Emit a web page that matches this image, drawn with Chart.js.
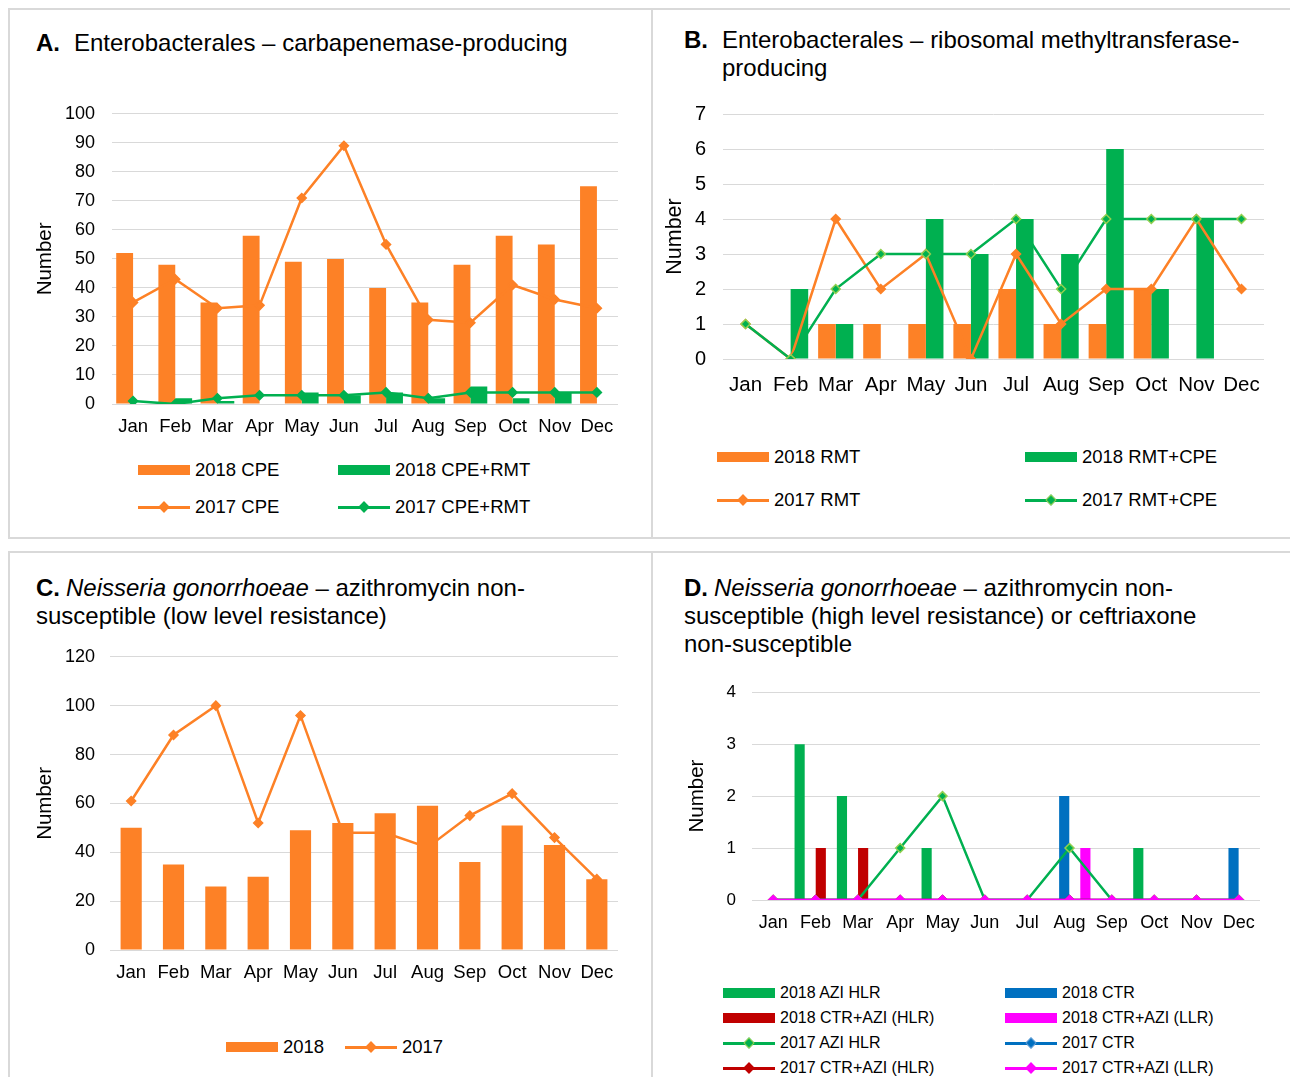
<!DOCTYPE html>
<html>
<head>
<meta charset="utf-8">
<script src="https://cdn.jsdelivr.net/npm/chart.js@4.4.1/dist/chart.umd.min.js"></script>
<style>
body { margin: 0; width: 1290px; height: 1077px; overflow: hidden; background: #fff; position: relative;
       font-family: "Liberation Sans", Arial, sans-serif; color: #000; }
.panel { position: absolute; border: 2px solid #d9d9d9; box-sizing: border-box; }
.title { position: absolute; font-size: 24px; line-height: 28px; white-space: nowrap; }
.title b { margin-right: 6px; }
.cv { position: absolute; }
.item { position: absolute; display: flex; align-items: center; height: 24px; white-space: nowrap; }
.sw { position: relative; width: 52px; height: 12px; margin-right: 5px; flex: none; }
.sw .bar { position: absolute; left: 0; top: 1px; width: 52px; height: 10px; }
.sw .ln { position: absolute; left: 0; top: 5px; width: 52px; height: 2.5px; }
.sw .dm { position: absolute; left: 22px; top: 2px; width: 6px; height: 6px; transform: rotate(45deg); border: 1.5px solid; }
</style>
</head>
<body>

<div class="panel" style="left:8px;top:8px;width:645px;height:531px"></div>
<div class="panel" style="left:651px;top:8px;width:650px;height:531px"></div>
<div class="panel" style="left:8px;top:551px;width:645px;height:540px"></div>
<div class="panel" style="left:651px;top:551px;width:650px;height:540px"></div>

<div class="title" style="left:36px;top:29px"><b style="margin-right:14px">A.</b>Enterobacterales – carbapenemase-producing</div>
<div class="title" style="left:684px;top:26px;padding-left:38px;text-indent:-38px"><b style="margin-right:14px">B.</b>Enterobacterales – ribosomal methyltransferase-<br>producing</div>
<div class="title" style="left:36px;top:574px"><b>C.</b><i>Neisseria gonorrhoeae</i> – azithromycin non-<br>susceptible (low level resistance)</div>
<div class="title" style="left:684px;top:574px"><b>D.</b><i>Neisseria gonorrhoeae</i> – azithromycin non-<br>susceptible (high level resistance) or ceftriaxone<br>non-susceptible</div>

<canvas id="chartA" class="cv" width="615" height="364" style="left:20px;top:86px"></canvas>
<canvas id="chartB" class="cv" width="615" height="330" style="left:662px;top:85px"></canvas>
<canvas id="chartC" class="cv" width="615" height="369" style="left:20px;top:631px"></canvas>
<canvas id="chartD" class="cv" width="612" height="274" style="left:665px;top:666px"></canvas>

<script>
const months = ['Jan', 'Feb', 'Mar', 'Apr', 'May', 'Jun', 'Jul', 'Aug', 'Sep', 'Oct', 'Nov', 'Dec'];

// A. carbapenemase-producing
const cpe2018 = [52, 48, 35, 58, 49, 50, 40, 35, 48, 58, 55, 75];
const cpeRmt2018 = [0, 2, 1, 0, 4, 3, 4, 2, 6, 2, 4, 0];
const cpe2017 = [35, 43, 33, 34, 71, 89, 55, 29, 28, 41, 36, 33];
const cpeRmt2017 = [1, 0, 2, 3, 3, 3, 4, 2, 4, 4, 4, 4];

// B. ribosomal methyltransferase-producing
const rmt2018 = [0, 0, 1, 1, 1, 1, 2, 1, 1, 2, 0, 0];
const rmtCpe2018 = [0, 2, 1, 0, 4, 3, 4, 3, 6, 2, 4, 0];
const rmt2017 = [1, 0, 4, 2, 3, 0, 3, 1, 2, 2, 4, 2];
const rmtCpe2017 = [1, 0, 2, 3, 3, 3, 4, 2, 4, 4, 4, 4];

// C. azithromycin low level
const azi2018 = [50, 35, 26, 30, 49, 52, 56, 59, 36, 51, 43, 29];
const azi2017 = [61, 88, 100, 52, 96, 48, 48, 42, 55, 64, 46, 29];

// D. azithromycin high level / ceftriaxone
const aziHlr2018 = [0, 3, 2, 0, 1, 0, 0, 0, 0, 1, 0, 0];
const ctr2018 = [0, 0, 0, 0, 0, 0, 0, 2, 0, 0, 0, 1];
const ctrAziHlr2018 = [0, 1, 1, 0, 0, 0, 0, 0, 0, 0, 0, 0];
const ctrAziLlr2018 = [0, 0, 0, 0, 0, 0, 0, 1, 0, 0, 0, 0];
const aziHlr2017 = [0, 0, 0, 1, 2, 0, 0, 1, 0, 0, 0, 0];
const ctr2017 = [0, 0, 0, 0, 0, 0, 0, 0, 0, 0, 0, 0];
const ctrAziHlr2017 = [0, 0, 0, 0, 0, 0, 0, 0, 0, 0, 0, 0];
const ctrAziLlr2017 = [0, 0, 0, 0, 0, 0, 0, 0, 0, 0, 0, 0];

const ORANGE = '#FD8126';
const GREEN = '#00B050';
const LIGHTGREEN = '#92D050';
const RED = '#C00000';
const BLUE = '#0070C0';
const MAGENTA = '#FF00FF';
const GRID = '#d9d9d9';

function bar(label, data, color, order) {
    return { type: 'bar', label, data, backgroundColor: color, borderWidth: 0, order };
}

function line(label, data, color, pointFill, pointBorder, order) {
    return {
        type: 'line', label, data, borderColor: color, borderWidth: 2.5, tension: 0,
        pointStyle: 'rectRot', pointRadius: 4.5, pointBorderWidth: 1.5,
        pointBackgroundColor: pointFill, pointBorderColor: pointBorder, order
    };
}

function axes(o) {
    return {
        x: {
            grid: { display: false, drawTicks: false },
            border: { display: false },
            ticks: { color: '#000', font: { size: o.xFont }, padding: o.xPad, maxRotation: 0, autoSkip: false },
            afterFit: s => { s.height = o.xH; }
        },
        y: {
            min: 0, max: o.max,
            grid: { color: GRID, lineWidth: 1, drawTicks: false },
            border: { display: false },
            ticks: { stepSize: o.step, color: '#000', font: { size: o.yFont }, padding: o.yPad },
            title: { display: true, text: 'Number', color: '#000', font: { size: o.tFont }, padding: { top: o.tPad, bottom: 0 } },
            afterFit: s => { s.width = o.yW; }
        }
    };
}

function makeChart(id, datasets, o) {
    return new Chart(document.getElementById(id), {
        data: { labels: months, datasets },
        options: {
            responsive: false,
            animation: false,
            devicePixelRatio: 1,
            layout: { padding: o.pad },
            datasets: { bar: { categoryPercentage: o.cat, barPercentage: o.barPct } },
            plugins: { legend: { display: false }, tooltip: { enabled: false } },
            scales: axes(o)
        }
    });
}

Chart.defaults.font.family = '"Liberation Sans", Arial, sans-serif';

const dsA = [
    bar('2018 CPE', cpe2018, ORANGE, 2),
    bar('2018 CPE+RMT', cpeRmt2018, GREEN, 2),
    line('2017 CPE', cpe2017, ORANGE, ORANGE, ORANGE, 1),
    line('2017 CPE+RMT', cpeRmt2017, GREEN, GREEN, GREEN, 0)
];
makeChart('chartA', dsA, {
    pad: { top: 12, right: 17, left: 0, bottom: 0 }, cat: 0.8, barPct: 1,
    max: 100, step: 10, yFont: 18, xFont: 18.5, tFont: 20.5,
    yPad: 17, xPad: 12, tPad: 13, yW: 92, xH: 46
});

const dsB = [
    bar('2018 RMT', rmt2018, ORANGE, 2),
    bar('2018 RMT+CPE', rmtCpe2018, GREEN, 2),
    line('2017 RMT', rmt2017, ORANGE, ORANGE, ORANGE, 1),
    line('2017 RMT+CPE', rmtCpe2017, GREEN, GREEN, LIGHTGREEN, 0)
];
makeChart('chartB', dsB, {
    pad: { top: 18, right: 13, left: 0, bottom: 0 }, cat: 0.78, barPct: 1,
    max: 7, step: 1, yFont: 20, xFont: 20.5, tFont: 21.5,
    yPad: 17, xPad: 14, tPad: 0, yW: 61, xH: 56
});

const dsC = [
    bar('2018', azi2018, ORANGE, 0),
    line('2017', azi2017, ORANGE, ORANGE, ORANGE, 1)
];
makeChart('chartC', dsC, {
    pad: { top: 11, right: 17, left: 0, bottom: 0 }, cat: 0.5, barPct: 1,
    max: 120, step: 20, yFont: 18, xFont: 18.5, tFont: 20.5,
    yPad: 15, xPad: 12, tPad: 13, yW: 90, xH: 50
});

const dsD = [
    bar('2018 AZI HLR', aziHlr2018, GREEN, 4),
    bar('2018 CTR', ctr2018, BLUE, 4),
    bar('2018 CTR+AZI (HLR)', ctrAziHlr2018, RED, 4),
    bar('2018 CTR+AZI (LLR)', ctrAziLlr2018, MAGENTA, 4),
    line('2017 AZI HLR', aziHlr2017, GREEN, GREEN, LIGHTGREEN, 1),
    line('2017 CTR', ctr2017, BLUE, BLUE, '#5B9BD5', 3),
    line('2017 CTR+AZI (HLR)', ctrAziHlr2017, RED, RED, RED, 2),
    line('2017 CTR+AZI (LLR)', ctrAziLlr2017, MAGENTA, MAGENTA, MAGENTA, 0)
];
makeChart('chartD', dsD, {
    pad: { top: 11, right: 17, left: 0, bottom: 0 }, cat: 1, barPct: 0.96,
    max: 4, step: 1, yFont: 17, xFont: 18, tFont: 20.5,
    yPad: 16, xPad: 12, tPad: 20, yW: 87, xH: 40
});

// html legends, items placed row by row over the given columns
function legend(datasets, cols, rows, font) {
    datasets.forEach((ds, i) => {
        const item = document.createElement('div');
        item.className = 'item';
        item.style.left = cols[i % cols.length] + 'px';
        item.style.top = (rows[Math.floor(i / cols.length)] - 12) + 'px';
        item.style.fontSize = font + 'px';
        let sw;
        if (ds.type === 'bar') {
            sw = `<span class="sw"><i class="bar" style="background:${ds.backgroundColor}"></i></span>`;
        } else {
            sw = `<span class="sw"><i class="ln" style="background:${ds.borderColor}"></i>` +
                 `<i class="dm" style="background:${ds.pointBackgroundColor};border-color:${ds.pointBorderColor}"></i></span>`;
        }
        item.innerHTML = sw + '<span>' + ds.label + '</span>';
        document.body.appendChild(item);
    });
}

legend(dsA, [138, 338], [470, 507], 18.5);
legend(dsB, [717, 1025], [457, 500], 18.5);
legend(dsC, [226, 345], [1047], 18.5);
legend(dsD, [723, 1005], [993, 1018, 1043, 1068], 16);
</script>
</body>
</html>
